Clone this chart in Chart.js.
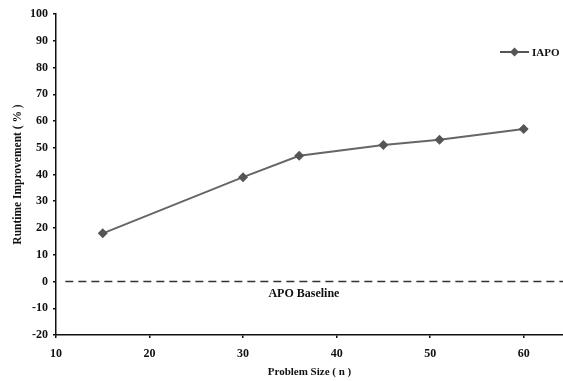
<!DOCTYPE html>
<html>
<head>
<meta charset="utf-8">
<script src="https://cdn.jsdelivr.net/npm/chart.js@4/dist/chart.umd.min.js"></script>
<style>
  html, body { margin: 0; padding: 0; background: #fff; }
  #wrap { width: 563px; height: 381px; }
</style>
</head>
<body>
<div id="wrap"><canvas id="myChart" width="563" height="381"></canvas></div>
<script>
// values
const problemSizes = [15, 30, 36, 45, 51, 60];
const iapoImprovement = [18, 39, 47, 51, 53, 57];
const baselineX = [11, 64.2];
const baselineY = [0, 0];
const seriesName = 'IAPO';
const baselineLabel = 'APO Baseline';
const xTicks = [10, 20, 30, 40, 50, 60];

const serif = '"Liberation Serif", "DejaVu Serif", serif';

// draws the legend in the top right and the baseline caption
const extrasPlugin = {
    id: 'extras',
    afterDraw(chart) {
        const ctx = chart.ctx;
        const xs = chart.scales.x;
        const ys = chart.scales.y;
        ctx.save();

        // baseline caption
        ctx.fillStyle = '#111';
        ctx.font = 'bold 12px ' + serif;
        ctx.textAlign = 'center';
        ctx.textBaseline = 'middle';
        ctx.fillText(baselineLabel, xs.getPixelForValue(36.5), ys.getPixelForValue(-4.7));

        // legend: line + diamond + name
        const ly = 52;
        ctx.strokeStyle = '#555';
        ctx.lineWidth = 2;
        ctx.beginPath();
        ctx.moveTo(500, ly);
        ctx.lineTo(529, ly);
        ctx.stroke();
        ctx.fillStyle = '#555';
        ctx.beginPath();
        ctx.moveTo(514.5, ly - 4.5);
        ctx.lineTo(519, ly);
        ctx.lineTo(514.5, ly + 4.5);
        ctx.lineTo(510, ly);
        ctx.closePath();
        ctx.fill();
        ctx.fillStyle = '#111';
        ctx.font = 'bold 11px ' + serif;
        ctx.textAlign = 'left';
        ctx.fillText(seriesName, 532, ly + 1);
        ctx.restore();
    }
};

const ctx = document.getElementById('myChart').getContext('2d');
new Chart(ctx, {
    type: 'scatter',
    data: {
        datasets: [
            {
                label: seriesName,
                data: problemSizes.map((x, i) => ({ x: x, y: iapoImprovement[i] })),
                showLine: true,
                borderColor: '#666',
                borderWidth: 2,
                pointStyle: 'rectRot',
                pointRadius: 5,
                pointBackgroundColor: '#555',
                pointBorderColor: '#555',
                pointBorderWidth: 0
            },
            {
                label: baselineLabel,
                data: baselineX.map((x, i) => ({ x: x, y: baselineY[i] })),
                showLine: true,
                borderColor: '#333',
                borderWidth: 1.5,
                borderDash: [8, 5],
                pointRadius: 0
            }
        ]
    },
    options: {
        responsive: false,
        animation: false,
        layout: { autoPadding: false, padding: { top: 14, right: 0, left: 0, bottom: 0 } },
        plugins: {
            legend: { display: false },
            tooltip: { enabled: false }
        },
        scales: {
            x: {
                type: 'linear',
                min: 10,
                max: 64.2,
                afterBuildTicks: axis => {
                    axis.ticks = xTicks.map(v => ({ value: v }));
                },
                afterFit: axis => {
                    axis.height = 46;
                    axis.paddingLeft = 0;
                    axis.paddingRight = 0;
                },
                grid: { drawOnChartArea: false, tickLength: 3, color: '#111', lineWidth: 1.5 },
                border: { color: '#111', width: 1.5 },
                ticks: {
                    color: '#111',
                    padding: 9,
                    maxRotation: 0,
                    font: { family: serif, size: 12, weight: 'bold' }
                },
                title: {
                    display: true,
                    text: 'Problem Size ( n )',
                    color: '#111',
                    padding: { top: 2, bottom: 2.5 },
                    font: { family: serif, size: 11, weight: 'bold' }
                }
            },
            y: {
                min: -20,
                max: 100,
                afterFit: axis => { axis.width = 56; },
                grid: { drawOnChartArea: false, tickLength: 3, color: '#111', lineWidth: 1.5 },
                border: { color: '#111', width: 1.5 },
                ticks: {
                    stepSize: 10,
                    color: '#111',
                    padding: 5,
                    font: { family: serif, size: 12, weight: 'bold' }
                },
                title: {
                    display: true,
                    text: 'Runtime Improvement ( % )',
                    color: '#111',
                    padding: { top: 11, bottom: 4 },
                    font: { family: serif, size: 11.5, weight: 'bold' }
                }
            }
        }
    },
    plugins: [extrasPlugin]
});
</script>
</body>
</html>
